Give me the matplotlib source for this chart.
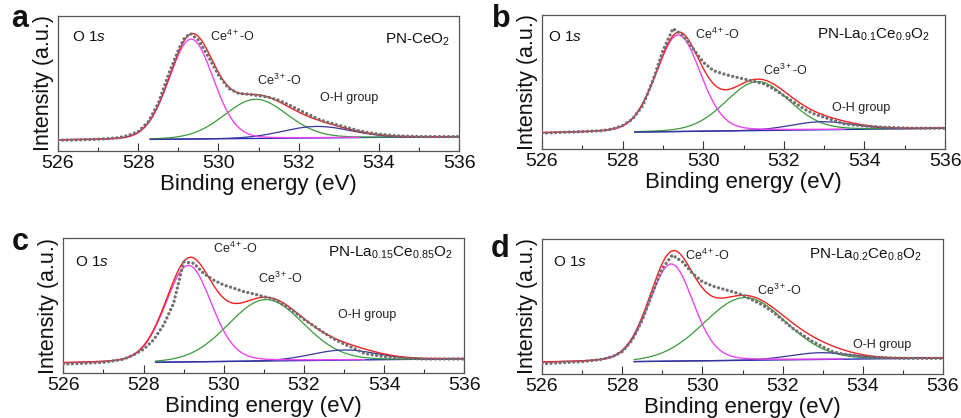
import numpy as np
import matplotlib
matplotlib.use("Agg")
import matplotlib.pyplot as plt

plt.rcParams['font.family'] = ['Liberation Sans', 'DejaVu Sans']
plt.rcParams['mathtext.fontset'] = 'custom'
plt.rcParams['mathtext.rm'] = 'Liberation Sans'
plt.rcParams['mathtext.it'] = 'Liberation Sans:italic'
plt.rcParams['mathtext.bf'] = 'Liberation Sans:bold'

# ---- measured O 1s spectra (normalised intensity) ----
energy_a = [526.0, 526.5, 527.0, 527.5, 527.75, 528.0, 528.25, 528.5, 528.75, 529.0, 529.15, 529.3,
            529.5, 529.75, 530.0, 530.25, 530.5, 530.75, 531.0, 531.25, 531.5, 531.75, 532.0,
            532.25, 532.5, 532.75, 533.0, 533.25, 533.5, 533.75, 534.0, 534.25, 534.5, 534.75,
            535.0, 535.5, 536.0]
counts_a = [0.080, 0.082, 0.087, 0.098, 0.115, 0.143, 0.217, 0.353, 0.563, 0.748, 0.835, 0.870,
            0.822, 0.698, 0.563, 0.464, 0.427, 0.420, 0.410, 0.398, 0.376, 0.343, 0.305,
            0.270, 0.235, 0.210, 0.190, 0.170, 0.150, 0.135, 0.125, 0.117, 0.112, 0.109,
            0.107, 0.106, 0.106]

energy_b = [526.0, 526.5, 527.0, 527.5, 527.75, 528.0, 528.25, 528.5, 528.75, 529.0, 529.25,
            529.5, 529.75, 530.0, 530.25, 530.5, 530.75, 531.0, 531.25, 531.5, 531.75, 532.0,
            532.25, 532.5, 532.75, 533.0, 533.5, 534.0, 534.5, 535.0, 535.5, 536.0]
counts_b = [0.120, 0.127, 0.132, 0.139, 0.152, 0.177, 0.226, 0.326, 0.512, 0.736, 0.900,
            0.848, 0.749, 0.649, 0.587, 0.562, 0.542, 0.525, 0.507, 0.488, 0.450, 0.400,
            0.351, 0.300, 0.264, 0.239, 0.189, 0.174, 0.164, 0.159, 0.157, 0.157]

energy_c = [526.0, 526.5, 527.0, 527.5, 527.75, 528.0, 528.25, 528.5, 528.75, 529.0, 529.25,
            529.5, 529.75, 530.0, 530.25, 530.5, 530.75, 531.0, 531.25, 531.5, 531.75, 532.0,
            532.25, 532.5, 532.75, 533.0, 533.25, 533.5, 534.0, 534.5, 535.0, 535.5, 536.0]
counts_c = [0.068, 0.074, 0.081, 0.104, 0.136, 0.178, 0.247, 0.358, 0.519, 0.825, 0.815,
            0.740, 0.690, 0.654, 0.630, 0.605, 0.588, 0.568, 0.548, 0.506, 0.457, 0.400,
            0.350, 0.300, 0.254, 0.217, 0.185, 0.148, 0.123, 0.111, 0.106, 0.106, 0.106]

energy_d = [526.0, 526.5, 527.0, 527.5, 527.75, 528.0, 528.25, 528.5, 528.75, 529.0, 529.25,
            529.5, 529.75, 530.0, 530.25, 530.5, 530.75, 531.0, 531.25, 531.5, 531.75, 532.0,
            532.25, 532.5, 532.75, 533.0, 533.25, 533.5, 534.0, 534.5, 535.0, 535.5, 536.0]
counts_d = [0.076, 0.084, 0.091, 0.109, 0.128, 0.165, 0.252, 0.400, 0.598, 0.783, 0.881,
            0.832, 0.746, 0.684, 0.652, 0.630, 0.610, 0.585, 0.548, 0.511, 0.462, 0.400,
            0.338, 0.289, 0.240, 0.202, 0.165, 0.148, 0.128, 0.121, 0.116, 0.116, 0.116]

# ---- fitted components: (centre eV, height, FWHM eV, Lorentzian fraction) ----
ce4_a, ce3_a, oh_a = (529.32, 0.740, 1.30, 0.08), (530.93, 0.290, 1.85, 0.10), (532.45, 0.085, 2.00, 0.0)
ce4_b, ce3_b, oh_b = (529.38, 0.720, 1.30, 0.15), (531.35, 0.365, 1.85, 0.10), (532.95, 0.060, 1.80, 0.0)
ce4_c, ce3_c, oh_c = (529.12, 0.715, 1.35, 0.15), (531.05, 0.455, 2.20, 0.05), (533.00, 0.075, 1.90, 0.0)
ce4_d, ce3_d, oh_d = (529.22, 0.720, 1.30, 0.15), (531.06, 0.465, 2.40, 0.05), (532.95, 0.050, 1.80, 0.0)

# linear background (intensity at 526 eV, at 536 eV)
bg_a, bg_b, bg_c, bg_d = (0.080, 0.106), (0.120, 0.157), (0.074, 0.108), (0.084, 0.118)

samples = ['PN-CeO$_2$',
           'PN-La$_{0.1}$Ce$_{0.9}$O$_2$',
           'PN-La$_{0.15}$Ce$_{0.85}$O$_2$',
           'PN-La$_{0.2}$Ce$_{0.8}$O$_2$']
letters = ['a', 'b', 'c', 'd']
xticks = [526, 528, 530, 532, 534, 536]

panels = [
    dict(E=energy_a, I=counts_a, peaks=(ce4_a, ce3_a, oh_a), bg=bg_a,
         rect=[0.0604, 0.6388, 0.4173, 0.3230],
         lab4=(529.79, 0.85), lab3=(530.96, 0.52), laboh=(532.53, 0.39),
         o1s=(0.035, 0.845), name=(0.978, 0.82), letter=(11, 391)),
    dict(E=energy_b, I=counts_b, peaks=(ce4_b, ce3_b, oh_b), bg=bg_b,
         rect=[0.5640, 0.6428, 0.4194, 0.3210],
         lab4=(529.80, 0.853), lab3=(531.48, 0.59), laboh=(533.19, 0.31),
         o1s=(0.016, 0.836), name=(0.963, 0.853), letter=(492, 391)),
    dict(E=energy_c, I=counts_c, peaks=(ce4_c, ce3_c, oh_c), bg=bg_c,
         rect=[0.0659, 0.1069, 0.4173, 0.3230],
         lab4=(529.73, 0.926), lab3=(530.86, 0.704), laboh=(532.85, 0.432),
         o1s=(0.030, 0.827), name=(0.972, 0.889), letter=(12, 168)),
    dict(E=energy_d, I=counts_d, peaks=(ce4_d, ce3_d, oh_d), bg=bg_d,
         rect=[0.5640, 0.1053, 0.4173, 0.3229],
         lab4=(529.57, 0.881), lab3=(531.35, 0.622), laboh=(533.76, 0.215),
         o1s=(0.027, 0.832), name=(0.947, 0.881), letter=(491, 161)),
]


def pseudo_voigt(x, c, h, w, eta):
    g = np.exp(-4 * np.log(2) * (x - c) ** 2 / w ** 2)
    lz = 1.0 / (1.0 + 4 * (x - c) ** 2 / w ** 2)
    return h * ((1 - eta) * g + eta * lz)


fig = plt.figure(figsize=(9.61, 4.18), dpi=100)
x = np.linspace(526, 536, 801)

for i, p in enumerate(panels):
    ax = fig.add_axes(p['rect'])
    bg = np.interp(x, [526, 536], list(p['bg']))
    ce4, ce3, oh = p['peaks']
    y4 = pseudo_voigt(x, *ce4)
    y3 = pseudo_voigt(x, *ce3)
    yoh = pseudo_voigt(x, *oh)
    envelope = bg + y4 + y3 + yoh

    m_bg = (x >= 528.3) & (x <= 536)
    m3 = (x >= 528.3) & (x <= 535.0)
    m4 = (x <= 533.5)
    ax.plot(x[m_bg], bg[m_bg], color='#2b2fb5', lw=1.0, zorder=2)
    ax.plot(x[m3], (bg + y3)[m3], color='#3a9a3a', lw=0.9, zorder=3)
    ax.plot(x[m_bg], (bg + yoh)[m_bg], color='#35359a', lw=0.9, zorder=3)
    ax.plot(x[m4], (bg + y4)[m4], color='#ee44ee', lw=1.0, zorder=4)
    ax.plot(x, envelope, color='#ee2222', lw=1.0, zorder=5)
    ax.plot(p['E'], p['I'], color='#707070', lw=2.4, linestyle=(0, (0.01, 1.35)),
            dash_capstyle='round', zorder=6)

    ax.set_xlim(526, 536)
    ax.set_ylim(0, 1)
    ax.set_xticks(xticks)
    ax.set_xticks(range(527, 536, 2), minor=True)
    ax.set_yticks([])
    ax.tick_params(axis='x', which='major', direction='in', length=6, width=0.8,
                   labelsize=14, pad=3, colors='#333333', labelcolor='#111111')
    ax.tick_params(axis='x', which='minor', direction='in', length=3, width=0.8,
                   colors='#333333')
    for s in ax.spines.values():
        s.set_color('#555555')
        s.set_linewidth(0.9)
    ax.set_xlabel('Binding energy (eV)', fontsize=16, labelpad=1, color='#111111')
    ax.set_ylabel('Intensity (a.u.)', fontsize=15.5, labelpad=3, color='#111111')

    ax.text(*p['o1s'], 'O $\\mathit{1s}$', transform=ax.transAxes, fontsize=11,
            va='center', ha='left', color='#111111')
    ax.text(*p['name'], samples[i], transform=ax.transAxes, fontsize=11,
            va='center', ha='right', color='#111111')
    ax.text(*p['lab4'], 'Ce$^{4+}$-O', fontsize=9, va='center', ha='left', color='#222222')
    ax.text(*p['lab3'], 'Ce$^{3+}$-O', fontsize=9, va='center', ha='left', color='#222222')
    ax.text(*p['laboh'], 'O-H group', fontsize=9, va='center', ha='left', color='#222222')

    fig.text(p['letter'][0] / 961, p['letter'][1] / 418, letters[i], fontsize=22,
             fontweight='bold', ha='left', va='baseline', color='#111111')

fig.savefig('out.png', dpi=100)
